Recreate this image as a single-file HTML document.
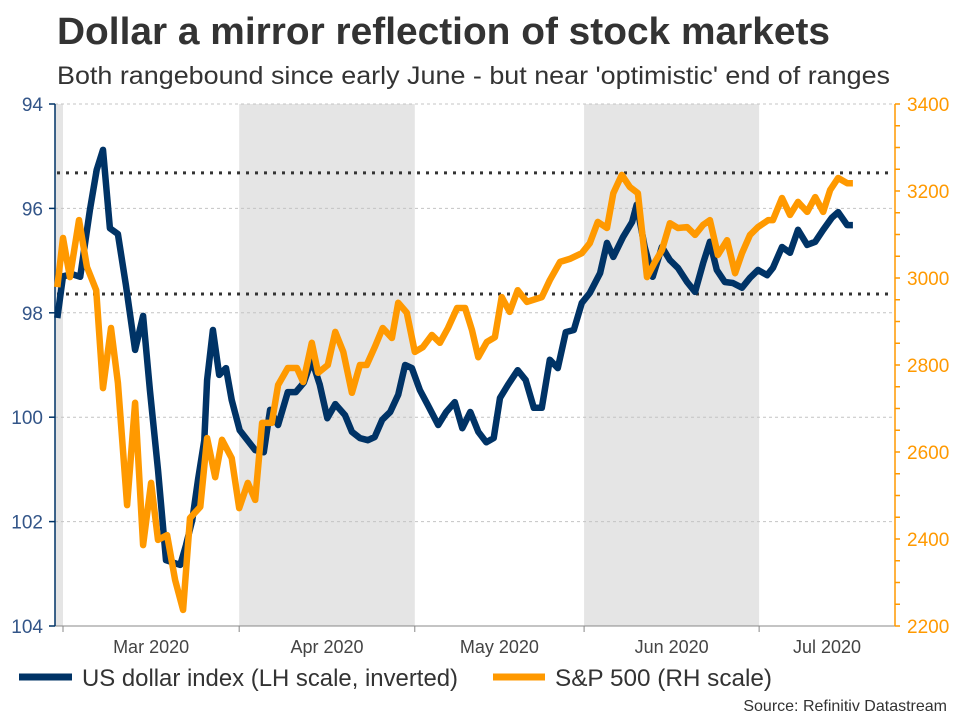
<!DOCTYPE html>
<html><head><meta charset="utf-8">
<style>
body{margin:0;background:#fff;width:960px;height:720px;overflow:hidden;font-family:"Liberation Sans",Arial,sans-serif;}
svg text{font-family:"Liberation Sans",Arial,sans-serif;}
</style></head>
<body>
<svg id="chart" width="960" height="720" viewBox="0 0 960 720" xmlns="http://www.w3.org/2000/svg">
<text x="57" y="44" font-size="38" font-weight="bold" fill="#333" textLength="773" lengthAdjust="spacingAndGlyphs">Dollar a mirror reflection of stock markets</text>
<text x="57" y="84" font-size="25" fill="#333" textLength="833" lengthAdjust="spacingAndGlyphs">Both rangebound since early June - but near 'optimistic' end of ranges</text>
<g id="plot"></g>
<g>
<line x1="19" y1="677" x2="72" y2="677" stroke="#003366" stroke-width="7"/>
<text x="82" y="686" font-size="24" fill="#333" textLength="376" lengthAdjust="spacingAndGlyphs">US dollar index (LH scale, inverted)</text>
<line x1="493" y1="677" x2="545" y2="677" stroke="#ff9900" stroke-width="7"/>
<text x="555" y="686" font-size="24" fill="#333" textLength="217" lengthAdjust="spacingAndGlyphs">S&amp;P 500 (RH scale)</text>
</g>
<text x="947" y="711" font-size="16" fill="#333" text-anchor="end">Source: Refinitiv Datastream</text>
</svg>
<script>
// days since 1 Mar 2020 (chart time units)
const usdDays=[-1,0,1.6,3,4.7,5.9,7,8.2,9.6,11,12.6,14,15.2,16.6,18,20.5,21.5,22.6,23.6,24.7,25.2,26.2,27.3,28.5,29.5,30.9,33.6,35.1,36.2,37.6,39.3,40.7,42.1,43.5,44.9,46.2,47.6,49.3,50.5,51.9,53.3,54.5,55.8,57.2,58.6,59.8,61,62.4,63.8,65.6,67,68.5,69.8,71.2,72.6,74,75.3,76.4,77.8,79.5,80.9,82.3,83.7,85.1,86.5,87.9,89.3,90.7,92.1,93.9,95.1,96.2,97.9,99.5,100.3,101.7,103.1,104.7,106.1,107.5,109.1,110.5,111.9,113.1,114.3,115.7,117.1,118.7,120.1,121.5,123.1,124.1,125.7,127.1,128.5,130.1,131.5,132.9,134.4,135.5,137.1,138.1];
const usdValues=[98.10,97.30,97.26,97.31,96.03,95.26,94.88,96.38,96.49,97.47,98.71,98.06,99.48,101.01,102.74,102.83,102.45,101.97,101.20,100.44,99.29,98.33,99.19,99.06,99.67,100.25,100.63,100.67,99.86,100.15,99.52,99.52,99.34,98.90,99.38,100.02,99.75,99.96,100.28,100.40,100.44,100.38,100.05,99.90,99.57,99.00,99.06,99.48,99.77,100.15,99.90,99.71,100.21,99.90,100.28,100.48,100.40,99.63,99.38,99.10,99.29,99.82,99.82,98.90,99.06,98.37,98.33,97.81,97.62,97.24,96.66,96.93,96.55,96.26,95.93,96.74,97.31,96.74,96.99,97.14,97.41,97.60,97.05,96.64,97.18,97.41,97.43,97.52,97.33,97.18,97.28,97.14,96.74,96.85,96.41,96.70,96.64,96.41,96.18,96.07,96.32,96.32];
const spxDays=[-1,0,1.2,2.8,4.2,5.8,7,8.4,9.6,11.2,12.6,14,15.4,16.6,18.2,19.6,21,22.2,24,25.2,26.6,27.8,29.5,30.8,32.3,33.6,34.8,36.5,37.6,39.3,40.9,42,43.5,44.6,46.3,47.6,49,50.5,51.9,53.1,54.5,55.9,57.5,58.6,60.1,61.5,62.9,64.5,65.9,67.3,68.9,70.3,71.5,72.6,74.1,75.5,76.7,78.1,79.5,81.1,83.7,85.1,86.9,88.6,90.7,92.1,93.5,95.1,96.2,97.7,99.1,100.5,102.1,103.5,104.7,106.1,107.5,109.1,110.5,111.9,113.1,114.5,116.1,117.5,118.7,120.1,121.5,123.3,124.1,125.7,127.1,128.5,130.1,131.5,132.9,134.1,135.5,137.1,138.1];
const spxValues=[2979,3092,3002,3133,3025,2972,2747,2885,2759,2478,2713,2386,2529,2398,2409,2306,2237,2448,2474,2632,2542,2628,2586,2471,2529,2490,2667,2667,2754,2793,2793,2761,2851,2782,2800,2876,2830,2736,2800,2800,2841,2885,2862,2943,2920,2830,2841,2869,2851,2885,2931,2931,2880,2818,2853,2864,2956,2922,2972,2945,2956,2995,3037,3044,3057,3080,3129,3115,3195,3237,3209,3195,3002,3037,3064,3126,3115,3117,3099,3122,3133,3053,3087,3011,3057,3099,3117,3133,3133,3184,3145,3175,3152,3186,3152,3202,3230,3218,3218];
const leftTicks=[94,96,98,100,102,104];
const rightTicks=[2200,2400,2600,2800,3000,3200,3400];
const monthStarts=[-1.4,0,30.8,61.5,91.1,121.7];
const monthLabels=["Mar 2020","Apr 2020","May 2020","Jun 2020","Jul 2020"];
const rangeLines=[95.32,97.64];

const NS="http://www.w3.org/2000/svg";
const L=55,R=895,T=104,B=626;
const xS=d=>63+d*5.72;
const yL=v=>T+(v-94)/10*(B-T);
const yR=v=>B-(v-2200)/1200*(B-T);
const g=document.getElementById('plot');
function mk(tag,attrs,parent){const e=document.createElementNS(NS,tag);for(const k in attrs)e.setAttribute(k,attrs[k]);(parent||g).appendChild(e);return e;}

for(let i=0;i<monthStarts.length;i++){
  if(i%2===0){
    const x1=Math.max(L,xS(monthStarts[i]));
    const x2=i+1<monthStarts.length?xS(monthStarts[i+1]):R;
    const r=mk('rect',{x:x1,y:T,width:x2-x1,height:B-T,fill:'#e5e5e5'});
    
    
  }
}
leftTicks.forEach(v=>{
  if(v===104)return;
  const l=mk('line',{x1:L,x2:R,y1:yL(v),y2:yL(v),stroke:'#c4c4c4','stroke-width':1,'stroke-dasharray':'3,3'});
  
  
});
rangeLines.forEach(v=>{
  const l=mk('line',{x1:L+2,x2:R-2,y1:yL(v),y2:yL(v),stroke:'#333','stroke-width':3,'stroke-dasharray':'3,6'});
  
  
});
const xa=mk('line',{x1:L,x2:R,y1:B,y2:B,stroke:'#888','stroke-width':1});


for(let i=1;i<monthStarts.length;i++){
  const x=xS(monthStarts[i]);
  const t=mk('line',{x1:x,x2:x,y1:B,y2:B+6,stroke:'#888'});
  
  
  const xn=i+1<monthStarts.length?xS(monthStarts[i+1]):R;
  const lab=mk('text',{x:(x+xn)/2,y:653,'font-size':18,fill:'#444','text-anchor':'middle'});
  lab.textContent=monthLabels[i-1];
  
  
}
const la=mk('line',{x1:L,x2:L,y1:T,y2:B,stroke:'#003366','stroke-width':1.5});


leftTicks.forEach(v=>{
  const t=mk('line',{x1:L-6,x2:L,y1:yL(v),y2:yL(v),stroke:'#003366','stroke-width':1.5});
  
  
  const lab=mk('text',{x:43,y:yL(v)+7,'font-size':19,fill:'#335588','text-anchor':'end'});
  lab.textContent=v;
  
  
});
const ra=mk('line',{x1:R,x2:R,y1:T,y2:B,stroke:'#ff9900','stroke-width':1.5});


for(let v=2200;v<=3400;v+=50){
  const t=mk('line',{x1:R,x2:R+5,y1:yR(v),y2:yR(v),stroke:'#ff9900','stroke-width':1.5});
  
  
}
rightTicks.forEach(v=>{
  const lab=mk('text',{x:907,y:yR(v)+7,'font-size':19,fill:'#ff9900'});
  lab.textContent=v;
  
  
});
const spxPts=spxDays.map((d,i)=>xS(d).toFixed(1)+','+yR(spxValues[i]).toFixed(1)).join(' ');
const usdPts=usdDays.map((d,i)=>xS(d).toFixed(1)+','+yL(usdValues[i]).toFixed(1)).join(' ');
const us=mk('polyline',{points:usdPts,fill:'none',stroke:'#003366','stroke-width':6.5,'stroke-linejoin':'round'});


const sp=mk('polyline',{points:spxPts,fill:'none',stroke:'#ff9900','stroke-width':6.5,'stroke-linejoin':'round'});


</script>
</body></html>
